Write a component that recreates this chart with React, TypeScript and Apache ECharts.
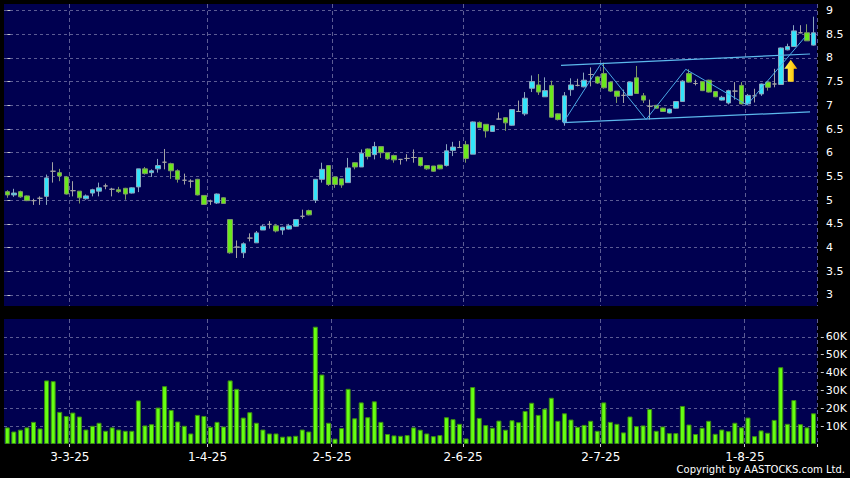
import React, { useEffect, useRef } from 'react';
import * as echarts from 'echarts';

// Trading days (HK), Feb 17 – Aug 15, 2025
const febDays = [17, 18, 19, 20, 21, 24, 25, 26, 27, 28];
const marDays = [3, 4, 5, 6, 7, 10, 11, 12, 13, 14, 17, 18, 19, 20, 21, 24, 25, 26, 27, 28, 31];
const aprDays = [1, 2, 3, 7, 8, 9, 10, 11, 14, 15, 16, 17, 22, 23, 24, 25, 28, 29, 30];
const mayDays = [2, 6, 7, 8, 9, 12, 13, 14, 15, 16, 19, 20, 21, 22, 23, 26, 27, 28, 29, 30];
const junDays = [2, 3, 4, 5, 6, 9, 10, 11, 12, 13, 16, 17, 18, 19, 20, 23, 24, 25, 26, 27, 30];
const julDays = [2, 3, 4, 7, 8, 9, 10, 11, 14, 15, 16, 17, 18, 21, 22, 23, 24, 25, 28, 29, 30, 31];
const augDays = [1, 4, 5, 6, 7, 8, 11, 12, 13, 14, 15];

const labelDates = ['3-3-25', '1-4-25', '2-5-25', '2-6-25', '2-7-25', '1-8-25'];

const open = [
  5.18, 5.11, 5.18, 5.09, 4.99, 5.04, 5.08, 5.61, 5.58, 5.49,
  5.20, 5.19, 5.03, 5.15, 5.19, 5.30, 5.23, 5.22, 5.25, 5.15,
  5.28, 5.66, 5.58, 5.66, 5.80, 5.77, 5.62, 5.42, 5.40, 5.44,
  5.10, 4.98, 4.94, 5.05, 4.59, 4.01, 3.89, 4.20, 4.10, 4.37,
  4.49, 4.46, 4.37, 4.39, 4.45, 4.66, 4.78, 5.00, 5.44, 5.73,
  5.49, 5.45, 5.37, 5.79, 5.70, 6.08, 5.96, 6.13, 6.00, 5.94,
  5.86, 5.88, 5.90, 5.90, 5.73, 5.72, 5.74, 5.73, 6.05, 6.11,
  6.17, 5.97, 6.64, 6.60, 6.45, 6.71, 6.74, 6.58, 6.87, 6.82,
  7.36, 7.43, 7.18, 7.42, 6.82, 6.65, 7.33, 7.42, 7.39, 7.65,
  7.60, 7.67, 7.49, 7.30, 7.21, 7.21, 7.58, 7.20, 6.98, 7.00,
  6.94, 6.84, 6.94, 7.08, 7.67, 7.46, 7.50, 7.53, 7.29, 7.11,
  7.05, 7.30, 7.42, 7.03, 7.20, 7.24, 7.49, 7.45, 7.44, 8.17,
  8.24, 8.53, 8.53, 8.27,
];
const close = [
  5.11, 5.15, 5.07, 4.99, 4.99, 5.04, 5.47, 5.61, 5.51, 5.13,
  5.20, 5.05, 5.09, 5.22, 5.26, 5.30, 5.23, 5.18, 5.13, 5.26,
  5.66, 5.56, 5.62, 5.73, 5.80, 5.62, 5.44, 5.42, 5.40, 5.11,
  4.91, 4.98, 5.13, 4.93, 3.89, 4.01, 4.08, 4.20, 4.31, 4.45,
  4.49, 4.35, 4.43, 4.46, 4.59, 4.66, 4.69, 5.44, 5.65, 5.33,
  5.33, 5.32, 5.68, 5.70, 5.99, 5.92, 6.13, 6.00, 5.87, 5.85,
  5.86, 5.88, 5.90, 5.73, 5.66, 5.61, 5.66, 6.04, 6.12, 6.11,
  5.88, 6.65, 6.53, 6.46, 6.57, 6.71, 6.63, 6.91, 6.87, 7.15,
  7.50, 7.28, 7.31, 6.75, 6.70, 7.20, 7.43, 7.42, 7.53, 7.65,
  7.47, 7.37, 7.30, 7.19, 7.21, 7.49, 7.25, 7.11, 6.98, 6.94,
  6.87, 6.92, 7.08, 7.51, 7.49, 7.46, 7.31, 7.28, 7.18, 7.17,
  7.31, 7.30, 7.03, 7.21, 7.20, 7.45, 7.38, 7.45, 8.21, 8.24,
  8.57, 8.53, 8.36, 8.53,
];
const low = [
  5.05, 5.07, 5.05, 4.98, 4.90, 4.90, 4.90, 5.37, 5.40, 5.12,
  5.08, 4.93, 5.01, 5.08, 5.08, 5.23, 5.08, 5.15, 5.01, 5.14,
  5.17, 5.54, 5.49, 5.58, 5.65, 5.45, 5.37, 5.33, 5.26, 5.10,
  4.90, 4.90, 4.92, 4.92, 3.87, 3.78, 3.78, 4.13, 4.10, 4.37,
  4.40, 4.32, 4.27, 4.38, 4.44, 4.61, 4.68, 4.94, 5.37, 5.30,
  5.26, 5.26, 5.37, 5.65, 5.70, 5.86, 5.86, 5.89, 5.85, 5.79,
  5.75, 5.82, 5.79, 5.71, 5.64, 5.60, 5.65, 5.71, 5.93, 6.10,
  5.79, 5.97, 6.52, 6.32, 6.44, 6.70, 6.46, 6.57, 6.86, 6.78,
  7.28, 7.22, 7.18, 6.74, 6.68, 6.57, 7.20, 7.40, 7.38, 7.40,
  7.45, 7.35, 7.28, 7.05, 7.05, 7.20, 7.24, 7.05, 6.70, 6.93,
  6.86, 6.83, 6.93, 7.07, 7.48, 7.42, 7.30, 7.27, 7.17, 7.10,
  7.02, 7.12, 7.02, 7.00, 7.06, 7.20, 7.31, 7.38, 7.43, 8.16,
  8.24, 8.52, 8.36, 8.26,
];
const high = [
  5.21, 5.24, 5.20, 5.10, 5.03, 5.08, 5.54, 5.80, 5.66, 5.51,
  5.40, 5.19, 5.12, 5.24, 5.37, 5.35, 5.26, 5.28, 5.26, 5.27,
  5.66, 5.70, 5.65, 5.87, 6.08, 5.79, 5.65, 5.56, 5.44, 5.45,
  5.10, 5.01, 5.14, 5.06, 4.59, 4.15, 4.11, 4.30, 4.35, 4.48,
  4.56, 4.50, 4.44, 4.50, 4.60, 4.80, 4.80, 5.44, 5.79, 5.73,
  5.49, 5.45, 5.89, 5.80, 6.07, 6.09, 6.23, 6.13, 6.00, 5.96,
  5.87, 5.97, 6.07, 5.91, 5.74, 5.72, 5.74, 6.18, 6.23, 6.25,
  6.25, 6.66, 6.66, 6.60, 6.58, 6.85, 6.75, 6.92, 7.10, 7.28,
  7.63, 7.66, 7.59, 7.52, 6.83, 7.28, 7.57, 7.56, 7.69, 7.80,
  7.62, 7.90, 7.50, 7.30, 7.33, 7.50, 7.83, 7.26, 7.12, 7.01,
  6.95, 6.93, 7.09, 7.53, 7.76, 7.54, 7.51, 7.54, 7.30, 7.20,
  7.33, 7.49, 7.49, 7.24, 7.35, 7.46, 7.50, 7.77, 8.22, 8.30,
  8.69, 8.69, 8.71, 8.87,
];
// volume in thousands of shares
const volumeK = [
  9.3, 7.0, 8.0, 9.3, 12.4, 8.7, 35.6, 35.2, 18.0, 15.7,
  17.6, 15.4, 8.1, 10.2, 11.9, 7.4, 9.3, 8.1, 7.4, 7.4,
  24.4, 10.4, 11.1, 20.4, 32.4, 19.1, 12.6, 10.2, 5.9, 16.3,
  15.7, 9.6, 12.4, 9.8, 35.6, 30.9, 14.8, 17.8, 11.9, 8.1,
  5.9, 5.9, 4.1, 4.3, 4.6, 8.1, 7.0, 65.7, 38.9, 11.9,
  3.0, 8.9, 30.9, 14.4, 23.3, 15.0, 23.9, 12.4, 5.6, 4.8,
  4.6, 5.0, 9.3, 8.0, 5.9, 4.4, 5.0, 15.0, 13.9, 11.3,
  3.1, 31.9, 14.6, 10.6, 9.1, 13.1, 8.0, 13.3, 12.2, 18.5,
  23.1, 16.3, 19.8, 25.9, 13.0, 17.2, 13.7, 9.6, 10.7, 13.0,
  7.4, 23.3, 12.4, 11.3, 6.5, 15.4, 10.0, 10.4, 19.6, 7.4,
  9.8, 6.1, 6.1, 21.3, 10.9, 5.6, 9.1, 13.0, 5.7, 8.1,
  7.2, 11.9, 9.3, 14.8, 4.4, 7.6, 6.3, 13.5, 43.0, 11.3,
  24.6, 11.1, 9.3, 17.2,
];

const priceTicks = [3, 3.5, 4, 4.5, 5, 5.5, 6, 6.5, 7, 7.5, 8, 8.5, 9];
const volumeTicks = [10000, 20000, 30000, 40000, 50000, 60000];

// Trend lines drawn on the chart: [day index, price]
const channelUpper = [[84.46, 7.844], [122.44, 8.083]];
const channelLower = [[84.77, 6.634], [122.44, 6.86]];
const zigzag = [
  [84.77, 6.628], [90.57, 7.882], [97.43, 6.701], [103.48, 7.76], [112.83, 7.007], [121.68, 8.441],
];
const arrowPoint = [[119.5, 7.73]];

const monthDays: [number, number[]][] = [
  [2, febDays], [3, marDays], [4, aprDays], [5, mayDays], [6, junDays], [7, julDays], [8, augDays],
];
const dates: string[] = [];
monthDays.forEach(([m, days]) => days.forEach((d) => dates.push(`${d}-${m}-25`)));

const isLabelDay = (_i: number, v: string) => labelDates.indexOf(v) >= 0;

const gridLine = { color: '#5c5c94', width: 1, type: [3, 3] as number[] };
const vGridLine = { color: '#5c5c94', width: 1, type: [4, 3] as number[] };
const FONT = 'DejaVu Sans';

export default function App() {
  const ref = useRef<HTMLDivElement>(null);
  useEffect(() => {
    document.body.style.margin = '0';
    const chart = echarts.init(ref.current!, null, { renderer: 'svg' });
    const n = dates.length;
    const option: any = {
      animation: false,
      backgroundColor: '#000000',
      textStyle: { fontFamily: FONT },
      grid: [
        { left: 4, right: 33, top: 4, height: 302, show: true, backgroundColor: '#000050', borderWidth: 0 },
        { left: 4, right: 33, top: 319, height: 125, show: true, backgroundColor: '#000050', borderWidth: 0 },
      ],
      xAxis: [
        {
          type: 'category', gridIndex: 0, data: dates, boundaryGap: true,
          axisLine: { show: false }, axisTick: { show: false }, axisLabel: { show: false },
          splitLine: { show: true, interval: isLabelDay, lineStyle: vGridLine },
        },
        {
          type: 'category', gridIndex: 1, data: dates, boundaryGap: true,
          axisLine: { show: false },
          axisTick: { show: true, interval: isLabelDay, length: 3, lineStyle: { color: '#cccccc' } },
          axisLabel: {
            show: true, interval: isLabelDay, color: '#ffffff', fontSize: 12, fontFamily: FONT,
            margin: 7, padding: [0, 6, 0, 0],
          },
          splitLine: { show: true, interval: isLabelDay, lineStyle: vGridLine },
        },
        { type: 'value', gridIndex: 0, min: -0.5, max: n - 0.5, show: false },
      ],
      yAxis: [
        {
          type: 'value', gridIndex: 0, position: 'right', min: 2.768, max: 9.137, offset: 4,
          axisLine: { show: false },
          axisTick: { show: true, length: 3, customValues: priceTicks, lineStyle: { color: '#cccccc' } },
          axisLabel: { customValues: priceTicks, color: '#ffffff', fontSize: 11, fontFamily: FONT, margin: 5 },
          splitLine: { show: true, lineStyle: gridLine },
        },
        {
          type: 'value', gridIndex: 1, position: 'right', min: 0, max: 70000, offset: 4,
          axisLine: { show: false },
          axisTick: { show: true, length: 3, customValues: volumeTicks, lineStyle: { color: '#cccccc' } },
          axisLabel: {
            customValues: volumeTicks, color: '#ffffff', fontSize: 11, fontFamily: FONT, margin: 5,
            formatter: (v: number) => `${Math.round(v / 1000)}K`,
          },
          splitLine: { show: true, lineStyle: gridLine },
        },
      ],
      series: [
        {
          type: 'candlestick', xAxisIndex: 0, yAxisIndex: 0, barWidth: 5,
          data: dates.map((_, i) => [open[i], close[i], low[i], high[i]]),
          itemStyle: {
            color: '#33e4fa', color0: '#6ae81c',
            borderColor: '#8aa6be', borderColor0: '#7e9a66', borderColorDoji: '#a4a4a4', borderWidth: 1,
          },
        },
        {
          type: 'bar', xAxisIndex: 1, yAxisIndex: 1, barWidth: 5,
          data: volumeK.map((v) => v * 1000),
          itemStyle: { color: '#66ff12', borderColor: '#3c8c12', borderWidth: 1 },
        },
        {
          type: 'line', xAxisIndex: 2, yAxisIndex: 0, data: channelUpper, symbol: 'none', z: 5,
          lineStyle: { color: '#5cb8ec', width: 1.2 },
        },
        {
          type: 'line', xAxisIndex: 2, yAxisIndex: 0, data: channelLower, symbol: 'none', z: 5,
          lineStyle: { color: '#5cb8ec', width: 1.2 },
        },
        {
          type: 'line', xAxisIndex: 2, yAxisIndex: 0, data: zigzag, symbol: 'none', z: 5,
          lineStyle: { color: '#4aa8e6', width: 1 },
        },
        {
          type: 'scatter', xAxisIndex: 2, yAxisIndex: 0, data: arrowPoint, z: 6,
          symbol: 'path://M6.5,0 L13,9 L9.5,9 L9.5,22 L3.5,22 L3.5,9 L0,9 Z',
          symbolSize: [13, 22],
          itemStyle: {
            color: {
              type: 'linear', x: 0, y: 0, x2: 1, y2: 0,
              colorStops: [{ offset: 0, color: '#fff45a' }, { offset: 0.6, color: '#ffd21a' }, { offset: 1, color: '#f0a800' }],
            },
            borderWidth: 0,
            opacity: 1,
          },
        },
      ],
      graphic: [
        {
          type: 'text', right: 5, top: 464,
          style: { text: 'Copyright by AASTOCKS.com Ltd.', fill: '#ffffff', font: `10px "${FONT}"` },
        },
      ],
    };
    chart.setOption(option);
    return () => chart.dispose();
  }, []);
  return <div ref={ref} style={{ width: 850, height: 478, background: '#000' }} />;
}
